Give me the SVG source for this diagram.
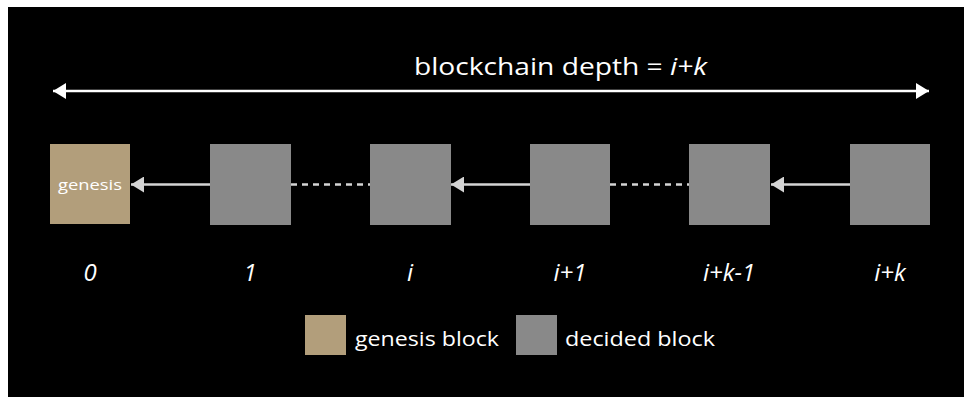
<svg xmlns="http://www.w3.org/2000/svg" width="964" height="397" viewBox="0 0 964 397">
<defs>
<style>
.t{font-family:"Open Sans","Liberation Sans",sans-serif;fill:#ffffff}
.lbl{font-family:"Open Sans","Liberation Sans",sans-serif;fill:#ffffff;font-style:italic;font-size:24px;text-anchor:middle}
.gen{fill:#b29e7b}
.dec{fill:#898989}
.solid{stroke:#d4d4d4;stroke-width:2.5;fill:none}
.dot{stroke:#d4d4d4;stroke-width:2.5;fill:none;stroke-dasharray:6 5}
</style>
<marker id="ah" markerWidth="13" markerHeight="16" refX="13" refY="8" orient="auto" markerUnits="userSpaceOnUse">
<path d="M0,0 L13,8 L0,16 Z" fill="#d4d4d4"/>
</marker>
<marker id="aw" markerWidth="13" markerHeight="16" refX="13" refY="8" orient="auto-start-reverse" markerUnits="userSpaceOnUse">
<path d="M0,0 L13,8 L0,16 Z" fill="#ffffff"/>
</marker>
</defs>
<rect x="0" y="0" width="964" height="397" fill="#ffffff"/>
<rect x="8" y="7" width="956" height="390" fill="#000000"/>
<g id="depth">
<line x1="53" y1="91" x2="929" y2="91" stroke="#ffffff" stroke-width="2.5" marker-start="url(#aw)" marker-end="url(#aw)"/>
<text class="t" x="414" y="75" font-size="24" textLength="293" lengthAdjust="spacingAndGlyphs">blockchain depth = <tspan font-style="italic">i+k</tspan></text>
</g>
<g id="connectors">
<line class="solid" x1="210" y1="184.5" x2="131" y2="184.5" marker-end="url(#ah)"/>
<line class="dot" x1="291" y1="184.5" x2="370" y2="184.5"/>
<line class="solid" x1="530" y1="184.5" x2="451" y2="184.5" marker-end="url(#ah)"/>
<line class="dot" x1="610" y1="184.5" x2="689" y2="184.5"/>
<line class="solid" x1="850" y1="184.5" x2="771" y2="184.5" marker-end="url(#ah)"/>
</g>
<g id="block0">
<rect class="gen" x="50" y="144" width="80" height="80"/>
<text class="t" x="58" y="190" font-size="15" textLength="64" lengthAdjust="spacingAndGlyphs">genesis</text>
<text class="lbl" x="90" y="281">0</text>
</g>
<g id="block1">
<rect class="dec" x="210" y="144" width="81" height="81"/>
<text class="lbl" x="250" y="281">1</text>
</g>
<g id="blocki">
<rect class="dec" x="370" y="144" width="81" height="81"/>
<text class="lbl" x="410" y="281">i</text>
</g>
<g id="blocki1">
<rect class="dec" x="530" y="144" width="80" height="81"/>
<text class="lbl" x="570" y="281">i+1</text>
</g>
<g id="blockik1">
<rect class="dec" x="689" y="144" width="81" height="81"/>
<text class="lbl" x="729" y="281">i+k-1</text>
</g>
<g id="blockik">
<rect class="dec" x="850" y="144" width="80" height="81"/>
<text class="lbl" x="890" y="281">i+k</text>
</g>
<g id="legend">
<rect class="gen" x="305" y="315" width="41" height="40"/>
<text class="t" x="355" y="346" font-size="20" textLength="144" lengthAdjust="spacingAndGlyphs">genesis block</text>
<rect class="dec" x="516" y="315" width="41" height="40"/>
<text class="t" x="565" y="346" font-size="20" textLength="150" lengthAdjust="spacingAndGlyphs">decided block</text>
</g>
</svg>
